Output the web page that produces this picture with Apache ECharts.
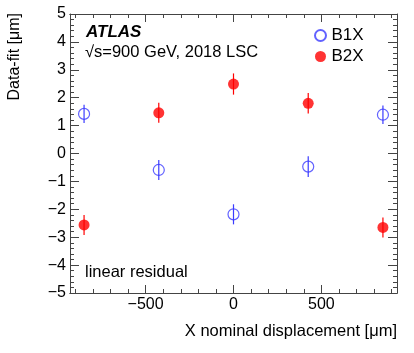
<!DOCTYPE html>
<html>
<head>
<meta charset="utf-8">
<script src="https://cdn.jsdelivr.net/npm/echarts@6/dist/echarts.min.js"></script>
<style>
  html, body { margin: 0; padding: 0; background: #fff; }
  #chart { width: 414px; height: 353px; }
</style>
</head>
<body>
<div id="chart"></div>
<script>
// nominal displacement positions [um]
var xPos = [-850, -425, 0, 425, 850];
// data - fit residuals [um]
var b1x = [1.42, -0.59, -2.18, -0.47, 1.39];
var b1xErr = [0.33, 0.36, 0.36, 0.37, 0.33];
var b2x = [-2.56, 1.46, 2.49, 1.80, -2.65];
var b2xErr = [0.36, 0.36, 0.38, 0.37, 0.36];
// tick marks
var xMajor = [-500, 0, 500];
var xMinor = [-900, -800, -700, -600, -400, -300, -200, -100, 100, 200, 300, 400, 600, 700, 800, 900];

var FONT = 'Liberation Sans, Arial, sans-serif';
var AX = '#444';
var BLUE = '#3b3bff';
var RED = '#ff0000';

function fmt(v){ return v < 0 ? '\u2212' + Math.abs(v) : '' + v; }

function xAx(pos, ticks, len, labels){
  return {
    type: 'value', min: -930, max: 930, position: pos,
    axisLine: { show: true, onZero: false, lineStyle: { color: AX, width: 1 } },
    axisTick: { show: true, inside: true, length: len, customValues: ticks, lineStyle: { color: AX } },
    axisLabel: labels ? { show: true, customValues: ticks, formatter: fmt, color: '#000', fontSize: 16, fontFamily: FONT, margin: 4 } : { show: false },
    splitLine: { show: false }
  };
}
function yAx(pos, labels){
  return {
    type: 'value', min: -5, max: 5, interval: 1, position: pos,
    axisLine: { show: true, onZero: false, lineStyle: { color: AX, width: 1 } },
    axisTick: { show: true, inside: true, length: 9, lineStyle: { color: AX } },
    minorTick: { show: true, splitNumber: 5, length: 4, lineStyle: { color: AX } },
    axisLabel: labels ? { show: true, formatter: fmt, color: '#000', fontSize: 16, fontFamily: FONT, margin: 4 } : { show: false },
    splitLine: { show: false }, minorSplitLine: { show: false }
  };
}
function pts(ys, errs){
  return xPos.map(function(x, i){ return [x, ys[i], errs[i]]; });
}
function errBars(color){
  return function(params, api){
    var x = api.value(0), y = api.value(1), e = api.value(2);
    var p1 = api.coord([x, y - e]), p2 = api.coord([x, y + e]);
    return { type: 'line', shape: { x1: p1[0], y1: p1[1], x2: p2[0], y2: p2[1] }, style: { stroke: color, lineWidth: 1.2 } };
  };
}

var chart = echarts.init(document.getElementById('chart'));
chart.setOption({
  animation: false,
  backgroundColor: '#fff',
  grid: { left: 70, right: 17, top: 14, bottom: 60, containLabel: false },
  xAxis: [
    xAx('bottom', xMajor, 8, true),
    xAx('bottom', xMinor, 4, false),
    xAx('top', xMajor, 8, false),
    xAx('top', xMinor, 4, false)
  ],
  yAxis: [yAx('left', true), yAx('right', false)],
  legend: {
    orient: 'vertical', left: 309, top: 22, itemGap: 4, itemWidth: 12, itemHeight: 11,
    textStyle: { fontSize: 17, fontFamily: FONT, color: '#000' },
    data: ['B1X', 'B2X']
  },
  series: [
    { type: 'custom', name: 'B1Xerr', renderItem: errBars(BLUE), data: pts(b1x, b1xErr), z: 5 },
    { type: 'custom', name: 'B2Xerr', renderItem: errBars(RED), data: pts(b2x, b2xErr), z: 1 },
    { type: 'scatter', name: 'B1X', data: pts(b1x, b1xErr), symbol: 'circle', symbolSize: 11,
      itemStyle: { color: 'rgba(0,0,0,0)', borderColor: BLUE, borderWidth: 1.2 }, z: 3 },
    { type: 'scatter', name: 'B2X', data: pts(b2x, b2xErr), symbol: 'circle', symbolSize: 11,
      itemStyle: { color: RED }, z: 3 }
  ],
  graphic: [
    { type: 'text', left: 86, top: 24, style: { text: 'ATLAS', font: 'italic bold 17px ' + FONT, fill: '#000' } },
    { type: 'text', left: 85, top: 44, style: { text: '\u221As=900 GeV, 2018 LSC', font: '16.5px ' + FONT, fill: '#000' } },
    { type: 'text', left: 85, top: 264, style: { text: 'linear residual', font: '16.5px ' + FONT, fill: '#000' } },
    { type: 'text', x: 397, y: 331, style: { text: 'X nominal displacement [\u03bcm]', font: '16.5px ' + FONT, fill: '#000', align: 'right', verticalAlign: 'middle' } },
    { type: 'text', x: 15, y: 13, rotation: Math.PI / 2, style: { text: 'Data-fit [\u03bcm]', font: '16px ' + FONT, fill: '#000', align: 'right', verticalAlign: 'middle' } }
  ]
});
</script>
</body>
</html>
